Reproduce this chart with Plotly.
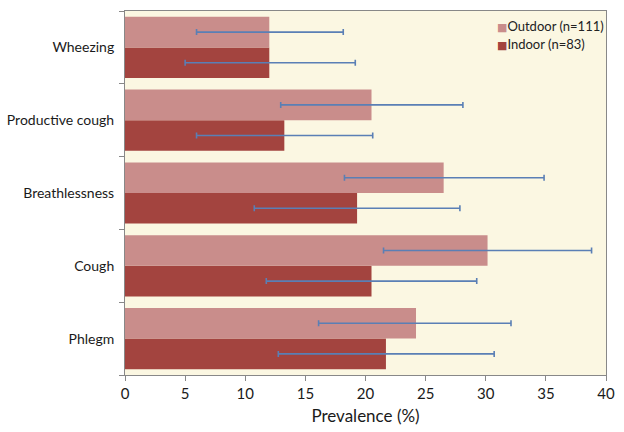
import plotly.graph_objects as go

categories = ["Phlegm", "Cough", "Breathlessness", "Productive cough", "Wheezing"]
outdoor = [24.2, 30.15, 26.5, 20.5, 12.0]
outdoor_lo = [16.1, 21.5, 18.25, 12.95, 5.95]
outdoor_hi = [32.1, 38.8, 34.85, 28.1, 18.15]
indoor = [21.7, 20.5, 19.3, 13.25, 12.0]
indoor_lo = [12.75, 11.75, 10.75, 5.95, 5.0]
indoor_hi = [30.7, 29.25, 27.85, 20.6, 19.15]
x_ticks = [0, 5, 10, 15, 20, 25, 30, 35, 40]
names = ["Outdoor (n=111)", "Indoor (n=83)"]
colors = ["#C98D8B", "#A3443F"]

err_color = "#5A7FB5"

def err(vals, lo, hi):
    return dict(type="data", symmetric=False,
                array=[h - v for v, h in zip(vals, hi)],
                arrayminus=[v - l for v, l in zip(vals, lo)],
                color=err_color, thickness=1.6, width=3)

fig = go.Figure()
fig.add_trace(go.Bar(y=categories, x=indoor, orientation="h", name=names[1],
                     marker=dict(color=colors[1], line=dict(width=0)),
                     error_x=err(indoor, indoor_lo, indoor_hi), showlegend=False))
fig.add_trace(go.Bar(y=categories, x=outdoor, orientation="h", name=names[0],
                     marker=dict(color=colors[0], line=dict(width=0)),
                     error_x=err(outdoor, outdoor_lo, outdoor_hi), showlegend=False))

font = "Lato, 'Open Sans', sans-serif"
# legend drawn as text annotations with coloured square glyphs
for i, (n, c) in enumerate(zip(names, colors)):
    fig.add_annotation(xref="paper", yref="paper", x=0.769, y=0.959 - i * 0.05,
                       xanchor="left", yanchor="middle", showarrow=False,
                       text=f"<span style='color:{c};font-family:DejaVu Sans;font-size:11px'>■</span>{n}",
                       font=dict(size=13, color="#222", family=font))

fig.update_layout(
    width=624, height=432,
    margin=dict(l=125, r=18, t=11, b=57),
    paper_bgcolor="white", plot_bgcolor="#FBF7E2",
    barmode="group", bargap=0.16, bargroupgap=0,
    font=dict(family=font, size=14, color="#1a1a1a"),
    showlegend=False,
)
fig.update_xaxes(range=[0, 40], tickvals=x_ticks, showgrid=False, zeroline=False,
                 ticks="outside", ticklen=5, tickcolor="#888", showline=True,
                 linecolor="#888", linewidth=1, mirror=True, automargin=False,
                 title=dict(text="Prevalence (%)", font=dict(size=17), standoff=9),
                 tickfont=dict(size=15))
fig.update_yaxes(categoryorder="array", categoryarray=categories, showgrid=False,
                 ticks="outside", ticklen=5, tickcolor="#888", tickson="boundaries",
                 showline=True, linecolor="#888", linewidth=1, mirror=True,
                 automargin=False, ticklabelstandoff=7,
                 tickfont=dict(size=14))

fig.write_html("out.html", post_script="document.body.style.margin='0';",
               config={"displayModeBar": False})
